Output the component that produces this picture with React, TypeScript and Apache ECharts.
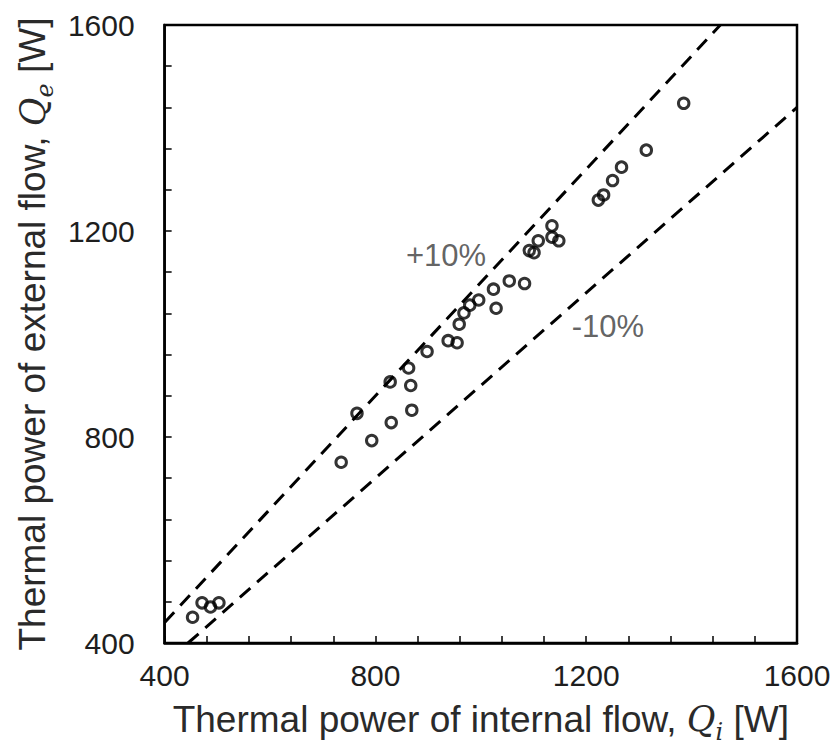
import React, { useEffect, useRef } from "react";
import * as echarts from "echarts";

// Measured points: internal flow Qi [W] vs external flow Qe [W]
const qInternal = [
  453, 471, 487, 503, 735, 765, 793, 830, 828, 863, 867, 869, 898, 938, 955,
  959, 968, 979, 996, 1024, 1029, 1054, 1083, 1092, 1101, 1109, 1135, 1135,
  1148, 1223, 1233, 1250, 1267, 1314, 1385,
];
const qExternal = [
  450, 478, 470, 478, 751, 846, 793, 828, 907, 934, 900, 852, 966, 987, 983,
  1019, 1041, 1056, 1066, 1087, 1050, 1103, 1098, 1162, 1158, 1181, 1210, 1188,
  1181, 1260, 1270, 1298, 1324, 1357, 1448,
];

// +10% / -10% reference lines (end points)
const upperLineX = [400, 1454.5];
const upperLineY = [440, 1600];
const lowerLineX = [444.4, 1600];
const lowerLineY = [400, 1440];

// annotation texts
const annotationText = ["+10%", "-10%"];
const annotationX = [934, 1241];
const annotationY = [1153, 1014];

// axis
const axisMin = 400;
const axisMax = 1600;
const tickStep = 80;
const labelValues = [400, 800, 1200, 1600];

const FONT = "'Liberation Sans', Arial, sans-serif";
const MATH = "'DejaVu Serif', 'Liberation Serif', serif";
const TEXT = "#1e1e1e";

export default function App() {
  const ref = useRef<HTMLDivElement>(null);

  useEffect(() => {
    if (!ref.current) return;
    const chart = echarts.init(ref.current, undefined, { renderer: "svg" });

    const labelFormatter = (v: number) =>
      labelValues.includes(Math.round(v)) ? String(Math.round(v)) : "";

    const nameRich = {
      q: { fontFamily: MATH, fontStyle: "italic", fontSize: 35, color: "#2a2a2a", lineHeight: 37 },
      s: {
        fontFamily: MATH,
        fontStyle: "italic",
        fontSize: 24,
        color: "#2a2a2a",
        lineHeight: 49,
        verticalAlign: "bottom",
      },
    };

    const axisCommon = {
      type: "value",
      min: axisMin,
      max: axisMax,
      interval: tickStep,
      splitLine: { show: false },
      axisLine: { show: true, lineStyle: { color: "#000", width: 2.5 } },
      axisTick: { show: true, inside: true, length: 7, lineStyle: { color: "#000", width: 1.5 } },
      nameLocation: "middle",
    };

    chart.setOption({
      animation: false,
      backgroundColor: "#fff",
      grid: {
        left: 159,
        right: 41,
        top: 25,
        bottom: 108,
        show: true,
        borderColor: "#000",
        borderWidth: 2.5,
      },
      xAxis: {
        ...axisCommon,
        name: "Thermal power of internal flow, {q|Q}{s|i} [W]",
        nameGap: 43,
        nameTextStyle: { fontFamily: FONT, fontSize: 37, color: "#2a2a2a", lineHeight: 37, rich: nameRich },
        axisLabel: {
          formatter: labelFormatter,
          fontFamily: FONT,
          fontSize: 30,
          color: TEXT,
          margin: 17,
        },
      },
      yAxis: {
        ...axisCommon,
        name: "Thermal power of external flow, {q|Q}{s|e} [W]",
        nameGap: 104,
        nameTextStyle: { fontFamily: FONT, fontSize: 37, color: "#2a2a2a", lineHeight: 37, rich: nameRich },
        axisLabel: {
          formatter: labelFormatter,
          fontFamily: FONT,
          fontSize: 30,
          color: TEXT,
          margin: 30,
        },
      },
      series: [
        {
          type: "line",
          data: upperLineX.map((x, i) => [x, upperLineY[i]]),
          symbol: "none",
          lineStyle: { color: "#000", width: 3, type: [14, 9] },
          silent: true,
        },
        {
          type: "line",
          data: lowerLineX.map((x, i) => [x, lowerLineY[i]]),
          symbol: "none",
          lineStyle: { color: "#000", width: 3, type: [14, 9] },
          silent: true,
        },
        {
          type: "scatter",
          data: qInternal.map((x, i) => [x, qExternal[i]]),
          symbol: "circle",
          symbolSize: 10.5,
          itemStyle: { color: "rgba(255,255,255,0)", borderColor: "#000", borderWidth: 3 },
        },
        {
          type: "scatter",
          data: annotationX.map((x, i) => ({ value: [x, annotationY[i]], name: annotationText[i] })),
          symbolSize: 0,
          label: {
            show: true,
            position: "inside",
            formatter: (p: any) => p.name,
            fontFamily: FONT,
            fontSize: 31,
            color: "#3a3a3a",
          },
        },
      ],
    });

    return () => chart.dispose();
  }, []);

  return (
    <div
      ref={ref}
      style={{ position: "fixed", left: 0, top: 0, width: 838, height: 751, background: "#fff" }}
    />
  );
}
